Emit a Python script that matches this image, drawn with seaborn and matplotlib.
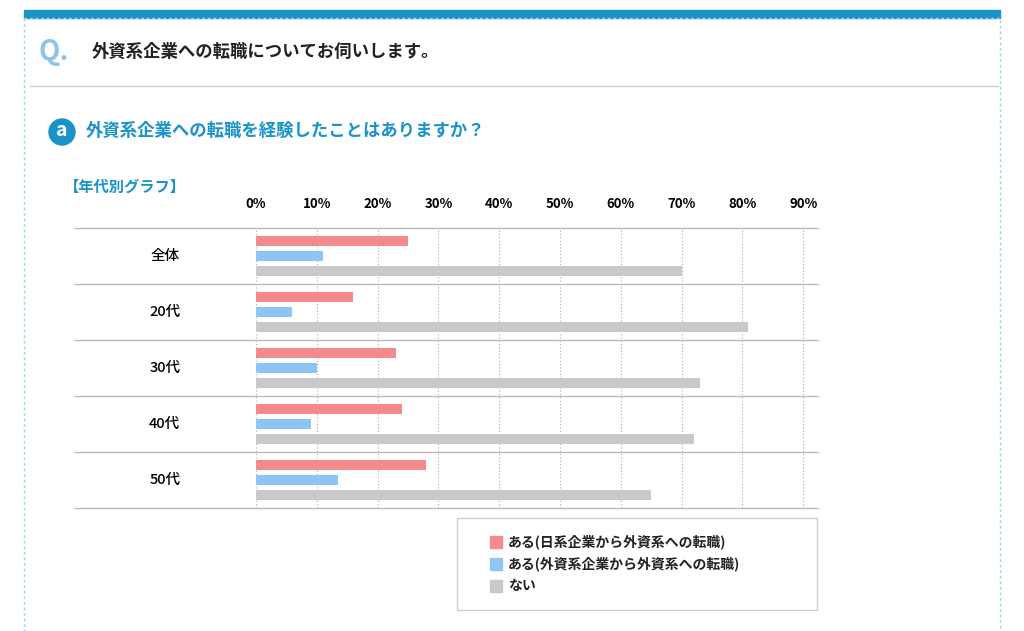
import matplotlib
matplotlib.use("Agg")
import matplotlib.pyplot as plt
import seaborn as sns
import pandas as pd
from matplotlib.patches import Rectangle, Circle

plt.rcParams["font.family"] = ["Noto Sans CJK JP", "DejaVu Sans"]

categories = ["全体", "20代", "30代", "40代", "50代"]
series = ["ある(日系企業から外資系への転職)", "ある(外資系企業から外資系への転職)", "ない"]
vals_jp = [25, 16, 23, 24, 28]
vals_fr = [11, 6, 10, 9, 13.5]
vals_no = [70, 81, 73, 72, 65]
ticks = [0, 10, 20, 30, 40, 50, 60, 70, 80, 90]
colors = ["#f48a8c", "#8ec5f7", "#c9c9c9"]

rows = []
for s, v in zip(series, [vals_jp, vals_fr, vals_no]):
    for c, x in zip(categories, v):
        rows.append({"cat": c, "series": s, "val": x})
df = pd.DataFrame(rows)

W, H = 1024, 631
fig = plt.figure(figsize=(W/100, H/100), dpi=100)
fig.patch.set_facecolor("white")

fa = fig.add_axes([0, 0, 1, 1]); fa.set_xlim(0, W); fa.set_ylim(H, 0); fa.axis("off")
fa.add_patch(Rectangle((24, 10), 976, 8, color="#1a93c9"))
fa.add_patch(Rectangle((24, 18), 976, 620, fill=False, ec="#9fd3ea", lw=1, ls=(0, (2, 2))))
fa.plot([30, 998], [86, 86], color="#cccccc", lw=1)
fa.text(38, 52, "Q.", color="#8cc4ea", fontsize=20, fontweight="bold", va="center", style="italic")
fa.text(92, 52, "外資系企業への転職についてお伺いします。", fontsize=12.5, fontweight="bold", va="center", color="#222222")
fa.add_patch(Circle((62, 132), 13, color="#1a93c9"))
fa.text(62, 131, "a", color="white", fontsize=14, fontweight="bold", ha="center", va="center")
fa.text(86, 131, "外資系企業への転職を経験したことはありますか？", fontsize=12.5, fontweight="bold", va="center", color="#1a93c9")
fa.text(64, 187, "【年代別グラフ】", fontsize=11, fontweight="bold", va="center", color="#1a93c9")

ax = fig.add_axes([75/W, 1-508/H, 743/W, 280/H])
sns.barplot(data=df, y="cat", x="val", hue="series", palette=colors, orient="h",
            width=0.8, ax=ax, legend=False, saturation=1)
for p in ax.patches:
    cy = p.get_y() + p.get_height()/2
    p.set_height(0.18); p.set_y(cy - 0.09)
ppx = (256-75)/6.08
ax.set_xlim(-ppx, (818-256)/6.08)
ax.set_ylim(4.5, -0.5)
ax.set_xticks(ticks)
ax.set_xticklabels([f"{t}%" for t in ticks], fontsize=9.5, fontweight="bold")
ax.xaxis.tick_top()
ax.tick_params(length=0, pad=12)
ax.set_yticks([]); ax.set_xlabel(""); ax.set_ylabel("")
for s in ax.spines.values(): s.set_visible(False)
for t in ticks:
    ax.axvline(t, color="#aaaaaa", lw=0.8, ls=(0, (1, 2)), zorder=0)
for y in [-0.5, 0.5, 1.5, 2.5, 3.5, 4.5]:
    ax.axhline(y, color="#bbbbbb", lw=1, zorder=0, clip_on=False)
for i, c in enumerate(categories):
    ax.text(-15, i, c, ha="center", va="center", fontsize=10.5, fontweight="medium")

fa.add_patch(Rectangle((457, 518), 360, 92, fill=False, ec="#cccccc", lw=1))
for i, (s, col) in enumerate(zip(series, colors)):
    y = 542 + i*22
    fa.add_patch(Rectangle((490, y-6), 12, 12, color=col))
    fa.text(508, y, s, fontsize=10, fontweight="bold", va="center", color="#222222")

fig.savefig("out.png", dpi=100)
